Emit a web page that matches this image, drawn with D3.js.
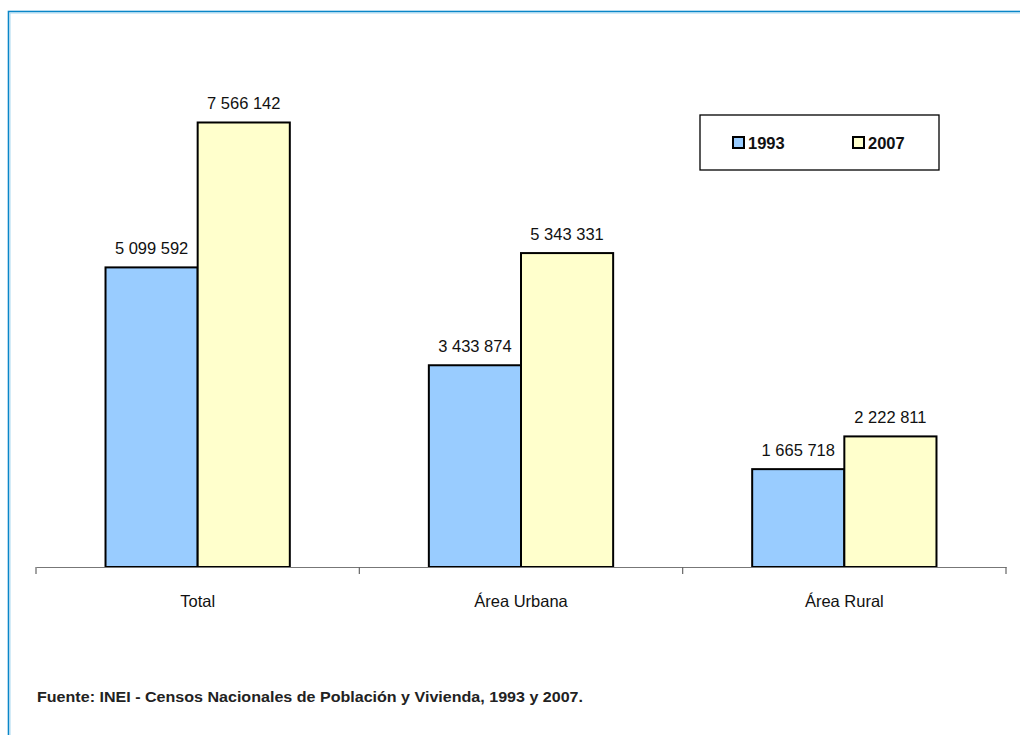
<!DOCTYPE html>
<html><head><meta charset="utf-8">
<script src="https://cdn.jsdelivr.net/npm/d3@7"></script>
<style>body{margin:0;background:#fff}svg{display:block}</style>
</head><body>
<script>
const categories = ["Total", "Área Urbana", "Área Rural"];
const seriesNames = ["1993", "2007"];
const values1993 = [5099592, 3433874, 1665718];
const values2007 = [7566142, 5343331, 2222811];
const colors = ["#99CCFF", "#FFFFCC"];
const footer = "Fuente: INEI - Censos Nacionales de Población y Vivienda, 1993 y  2007.";

const W = 1020, H = 735;
const svg = d3.select("body").append("svg").attr("width", W).attr("height", H);

// frame
svg.append("rect").attr("x", 8.5).attr("y", 11.5).attr("width", 1040).attr("height", 760)
  .attr("fill", "none").attr("stroke", "#0A86C8").attr("stroke-width", 1.6);
svg.append("rect").attr("x", 10).attr("y", 13).attr("width", 1040).attr("height", 760)
  .attr("fill", "none").attr("stroke", "#A8D8F0").attr("stroke-width", 1);

const x0 = d3.scaleBand().domain(categories).range([36, 1006]).paddingInner(0.43).paddingOuter(0.215);
const x1 = d3.scaleBand().domain(seriesNames).range([0, x0.bandwidth()]);
const y = d3.scaleLinear().domain([0, 8000000]).range([567, 97]);

const fmt = v => d3.format(",")(v).replace(/,/g, " ");
const data = categories.map((c, i) => ({c, vals: [values1993[i], values2007[i]]}));

const g = svg.append("g");
data.forEach(d => {
  d.vals.forEach((v, j) => {
    const xx = x0(d.c) + x1(seriesNames[j]);
    g.append("rect").attr("x", xx).attr("y", y(v)).attr("width", x1.bandwidth()).attr("height", y(0) - y(v))
      .attr("fill", colors[j]).attr("stroke", "#000").attr("stroke-width", 2);
    g.append("text").attr("x", xx + x1.bandwidth() / 2).attr("y", y(v) - 13)
      .attr("text-anchor", "middle").attr("font-family", "Liberation Sans, Arial, sans-serif")
      .attr("font-size", 16.5).attr("fill", "#111").text(fmt(v));
  });
});

// axis
const ax = svg.append("g").attr("transform", "translate(0,567)")
  .call(d3.axisBottom(x0).tickSize(0).tickPadding(28));
ax.select(".domain").attr("stroke", "#777").attr("stroke-width", 1.2);
ax.selectAll("text").attr("font-family", "Liberation Sans, Arial, sans-serif").attr("font-size", 16.5).attr("fill", "#111");
const bounds = [36, 36 + x0.step(), 36 + 2 * x0.step(), 1006];
svg.selectAll(".tk").data(bounds).enter().append("line")
  .attr("x1", d => d).attr("x2", d => d).attr("y1", 567).attr("y2", 574)
  .attr("stroke", "#666").attr("stroke-width", 1.2);

// legend
const lg = svg.append("g");
lg.append("rect").attr("x", 700).attr("y", 115).attr("width", 239).attr("height", 55)
  .attr("fill", "#fff").attr("stroke", "#000").attr("stroke-width", 1.3);
const legX = [733, 853];
seriesNames.forEach((s, j) => {
  lg.append("rect").attr("x", legX[j]).attr("y", 137).attr("width", 11).attr("height", 11)
    .attr("fill", colors[j]).attr("stroke", "#000").attr("stroke-width", 2);
  lg.append("text").attr("x", legX[j] + 15).attr("y", 148.5)
    .attr("font-family", "Liberation Sans, Arial, sans-serif").attr("font-weight", "bold")
    .attr("font-size", 16.5).attr("fill", "#111").text(s);
});

// footer
svg.append("text").attr("x", 37).attr("y", 702)
  .attr("font-family", "Liberation Sans, Arial, sans-serif").attr("font-weight", "bold")
  .attr("font-size", 14.5).attr("fill", "#222")
  .attr("textLength", 546).attr("lengthAdjust", "spacingAndGlyphs").text(footer);
</script>
</body></html>
